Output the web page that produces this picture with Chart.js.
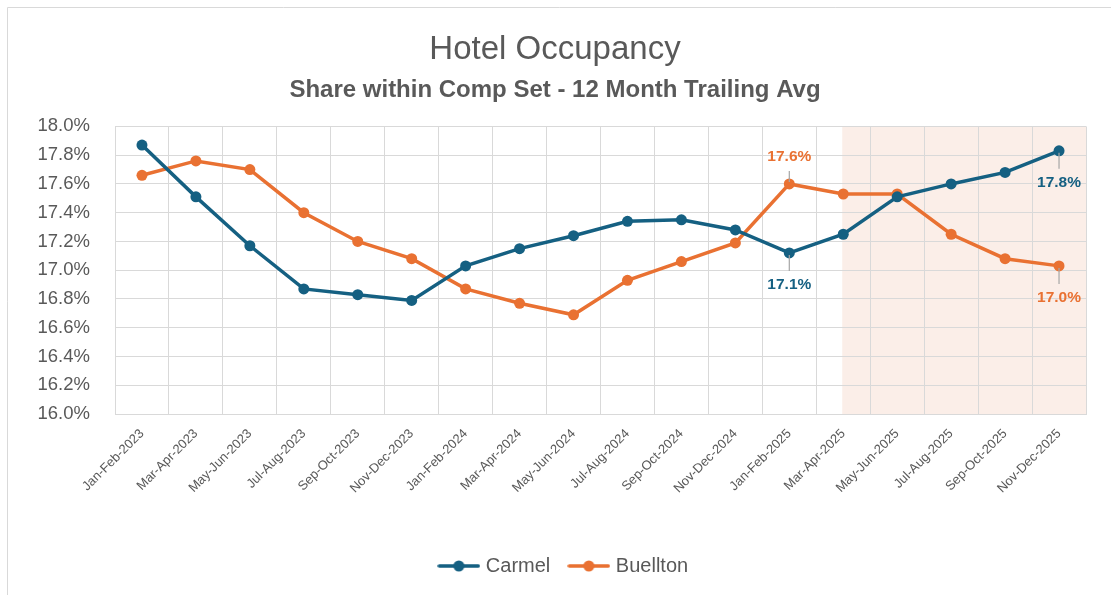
<!DOCTYPE html>
<html>
<head>
<meta charset="utf-8">
<script src="https://cdn.jsdelivr.net/npm/chart.js@4.4.1/dist/chart.umd.min.js"></script>
<style>
  html, body { margin: 0; padding: 0; background: #fff; }
  canvas { display: block; }
</style>
</head>
<body>
<canvas id="grafico" width="1111" height="595"></canvas>
<script>
// Categorias (bimestres)
const categorias = [
  'Jan-Feb-2023', 'Mar-Apr-2023', 'May-Jun-2023', 'Jul-Aug-2023', 'Sep-Oct-2023', 'Nov-Dec-2023',
  'Jan-Feb-2024', 'Mar-Apr-2024', 'May-Jun-2024', 'Jul-Aug-2024', 'Sep-Oct-2024', 'Nov-Dec-2024',
  'Jan-Feb-2025', 'Mar-Apr-2025', 'May-Jun-2025', 'Jul-Aug-2025', 'Sep-Oct-2025', 'Nov-Dec-2025'
];

// Valores en %
const carmel = [
  17.87, 17.51, 17.17, 16.87, 16.83, 16.79,
  17.03, 17.15, 17.24, 17.34, 17.35, 17.28,
  17.12, 17.25, 17.51, 17.60, 17.68, 17.83
];
const buellton = [
  17.66, 17.76, 17.70, 17.40, 17.20, 17.08,
  16.87, 16.77, 16.69, 16.93, 17.06, 17.19,
  17.60, 17.53, 17.53, 17.25, 17.08, 17.03
];

// Eje Y
const yMin = 16.0;
const yMax = 18.0;
const yPaso = 0.2;

// Desde que categoria empieza la zona sombreada (proyeccion)
const inicioSombra = 'Mar-Apr-2025';

// Etiquetas de datos: serie, categoria, arriba/abajo
const etiquetas = [
  { serie: 0, cat: 'Jan-Feb-2025', pos: 'abajo' },
  { serie: 0, cat: 'Nov-Dec-2025', pos: 'abajo' },
  { serie: 1, cat: 'Jan-Feb-2025', pos: 'arriba' },
  { serie: 1, cat: 'Nov-Dec-2025', pos: 'abajo' }
];

const AZUL = '#156082';
const NARANJA = '#E97132';
const GRIS = '#595959';

// Icono de leyenda: linea con punto
let iconoLeyenda = (color) => {
  let c = document.createElement('canvas');
  c.width = 43;
  c.height = 14;
  let g = c.getContext('2d');
  g.strokeStyle = color;
  g.lineWidth = 3.5;
  g.lineCap = 'round';
  g.beginPath();
  g.moveTo(2, 7);
  g.lineTo(41, 7);
  g.stroke();
  g.fillStyle = color;
  g.beginPath();
  g.arc(21.5, 7, 5.5, 0, Math.PI * 2);
  g.fill();
  return c;
};

// Marco del grafico
const marco = {
  id: 'marco',
  beforeDraw(chart) {
    let ctx = chart.ctx;
    ctx.save();
    ctx.strokeStyle = '#d9d9d9';
    ctx.lineWidth = 1;
    ctx.beginPath();
    ctx.moveTo(7.5, 1200);
    ctx.lineTo(7.5, 7.5);
    ctx.lineTo(1200, 7.5);
    ctx.stroke();
    ctx.restore();
  }
};

// Zona sombreada
const sombra = {
  id: 'sombra',
  beforeDraw(chart) {
    let { ctx, chartArea, scales } = chart;
    let x0 = scales.x.getPixelForValue(categorias.indexOf(inicioSombra)) - 1;
    ctx.save();
    ctx.fillStyle = '#FBEEE8';
    ctx.fillRect(x0, chartArea.top, chartArea.right - x0, chartArea.bottom - chartArea.top);
    ctx.restore();
  }
};

// La leyenda de Excel queda un poco a la derecha del centro
const moverLeyenda = {
  id: 'moverLeyenda',
  afterLayout(chart) {
    chart.legend.left += 10;
    chart.legend.right += 10;
  }
};

// Etiquetas con linea guia
const rotulos = {
  id: 'rotulos',
  afterDatasetsDraw(chart) {
    let ctx = chart.ctx;
    ctx.save();
    ctx.font = 'bold 15.5px "Liberation Sans", Arial, sans-serif';
    ctx.textAlign = 'center';
    ctx.textBaseline = 'middle';
    etiquetas.forEach(e => {
      let i = categorias.indexOf(e.cat);
      let ds = chart.data.datasets[e.serie];
      let punto = chart.getDatasetMeta(e.serie).data[i];
      let signo = e.pos === 'abajo' ? 1 : -1;
      let dist = e.pos === 'abajo' ? 32 : 27;
      ctx.strokeStyle = '#a6a6a6';
      ctx.lineWidth = 1.2;
      ctx.beginPath();
      ctx.moveTo(punto.x, punto.y + signo * 2);
      ctx.lineTo(punto.x, punto.y + signo * (dist - 14));
      ctx.stroke();
      ctx.fillStyle = ds.borderColor;
      ctx.fillText(ds.data[i].toFixed(1) + '%', punto.x, punto.y + signo * dist);
    });
    ctx.restore();
  }
};

let config = {
  type: 'line',
  data: {
    labels: categorias,
    datasets: [
      {
        label: 'Carmel',
        data: carmel,
        borderColor: AZUL,
        backgroundColor: AZUL,
        borderWidth: 3.5,
        pointRadius: 5.5,
        pointHoverRadius: 5.5,
        pointBorderWidth: 0,
        tension: 0
      },
      {
        label: 'Buellton',
        data: buellton,
        borderColor: NARANJA,
        backgroundColor: NARANJA,
        borderWidth: 3.5,
        pointRadius: 5.5,
        pointHoverRadius: 5.5,
        pointBorderWidth: 0,
        tension: 0
      }
    ]
  },
  options: {
    responsive: false,
    animation: false,
    layout: { padding: { left: 24, right: 25, top: 0, bottom: 9 } },
    plugins: {
      title: {
        display: true,
        text: 'Hotel Occupancy',
        color: GRIS,
        font: { family: '"Liberation Sans Narrow", "Liberation Sans", sans-serif', size: 33, weight: 'normal' },
        padding: { top: 30, bottom: 2 }
      },
      subtitle: {
        display: true,
        text: 'Share within Comp Set - 12 Month Trailing Avg',
        color: GRIS,
        font: { family: '"Liberation Sans Narrow", "Liberation Sans", sans-serif', size: 24, weight: 'bold' },
        padding: { top: 4, bottom: 22 }
      },
      legend: {
        position: 'bottom',
        labels: {
          color: GRIS,
          font: { family: '"Liberation Sans", Arial, sans-serif', size: 20 },
          usePointStyle: true,
          pointStyleWidth: 34,
          padding: 16,
          generateLabels: (chart) => chart.data.datasets.map((ds, i) => ({
            text: i === 0 ? ds.label + ' ' : ds.label,
            fontColor: GRIS,
            pointStyle: iconoLeyenda(ds.borderColor),
            datasetIndex: i,
            lineWidth: 0
          }))
        }
      },
      tooltip: { enabled: false }
    },
    scales: {
      x: {
        offset: true,
        grid: { offset: true, color: '#d9d9d9', drawTicks: false },
        border: { color: '#d9d9d9' },
        ticks: {
          color: GRIS,
          font: { family: '"Liberation Sans", Arial, sans-serif', size: 13 },
          maxRotation: 45,
          minRotation: 45,
          padding: 12,
          autoSkip: false
        },
        afterFit: (s) => { s.height = 126; }
      },
      y: {
        min: yMin,
        max: yMax,
        grid: { color: '#d9d9d9', drawTicks: false },
        border: { color: '#d9d9d9' },
        ticks: {
          stepSize: yPaso,
          color: GRIS,
          padding: 25,
          font: { family: '"Liberation Sans", Arial, sans-serif', size: 18.5 },
          callback: (v) => Number(v).toFixed(1) + '%'
        },
        afterFit: (s) => { s.width = 91; }
      }
    }
  },
  plugins: [marco, sombra, moverLeyenda, rotulos]
};

new Chart(document.getElementById('grafico'), config);
</script>
</body>
</html>
